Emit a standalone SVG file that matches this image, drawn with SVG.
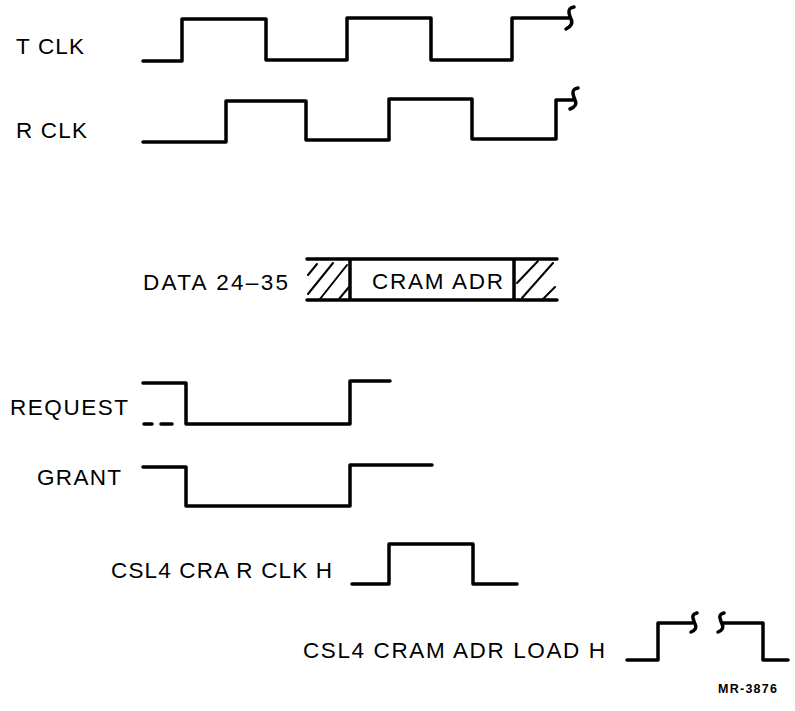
<svg xmlns="http://www.w3.org/2000/svg" width="795" height="711" viewBox="0 0 795 711">
<style>
.w{fill:none;stroke:#000;stroke-width:3.5;stroke-linecap:round;stroke-linejoin:round}
.h{fill:none;stroke:#000;stroke-width:2;stroke-linecap:round}
.t{font-family:"Liberation Sans",Arial,sans-serif;font-size:22.5px;fill:#000}
.s{font-family:"Liberation Sans",Arial,sans-serif;font-size:12.5px;font-weight:bold;fill:#000}
</style>
<rect width="795" height="711" fill="#fff"/>
<g id="tclk">
<text class="t" x="16" y="54" textLength="68" lengthAdjust="spacing">T CLK</text>
<path class="w" d="M143,61 H182 V19 H266 V60 H347 V18 H431 V60 H512 V18 H569"/>
<path class="w" d="M574,7 Q568,8 569,13 Q570,17 571,19 Q574,25 566,29"/>
</g>
<g id="rclk">
<text class="t" x="16" y="138" textLength="71" lengthAdjust="spacing">R CLK</text>
<path class="w" d="M143,142 H226 V101 H306 V140 H389 V99 H472 V139 H556 V100 H573"/>
<path class="w" d="M578,88 Q572,89 573,94 Q574,98 575,100 Q578,106 570,109"/>
</g>
<g id="data">
<text class="t" x="143" y="290" textLength="145" lengthAdjust="spacing">DATA 24–35</text>
<path class="w" d="M307,259 H557 M307,300 H557 M350,259 V300 M514,259 V300"/>
<path class="h" d="M308,275 L317,264 M308,294 L333,263 M320,299 L347,265 M339,299 L349,287 M517,283 L538,261 M522,298 L553,263 M543,299 L555,287"/>
<text class="t" x="372" y="289" textLength="131" lengthAdjust="spacing">CRAM ADR</text>
</g>
<g id="request">
<text class="t" x="10" y="415" textLength="118" lengthAdjust="spacing">REQUEST</text>
<path class="w" d="M143,383 H186 V424 H350 V381 H390"/>
<path class="w" d="M144,424 H152 M161,424 H172"/>
</g>
<g id="grant">
<text class="t" x="37" y="485" textLength="84" lengthAdjust="spacing">GRANT</text>
<path class="w" d="M143,467 H186 V506 H350 V465 H432"/>
</g>
<g id="csl4-cra">
<text class="t" x="111" y="578" textLength="221" lengthAdjust="spacing">CSL4 CRA R CLK H</text>
<path class="w" d="M352,584 H389 V544 H473 V584 H517"/>
</g>
<g id="csl4-load">
<text class="t" x="303" y="658" textLength="302" lengthAdjust="spacing">CSL4 CRAM ADR LOAD H</text>
<path class="w" d="M627,660 H658 V623 H692"/>
<path class="w" d="M697,613 Q692,614 693,618 Q694,622 695,624 Q698,629 691,632"/>
<path class="w" d="M724,613 Q719,614 720,618 Q721,622 722,624 Q725,629 718,632"/>
<path class="w" d="M723,623 H763 V660 H788"/>
</g>
<g id="ref">
<text class="s" x="718" y="693" textLength="59" lengthAdjust="spacing">MR-3876</text>
</g>
<g id="connectors"></g>
</svg>
